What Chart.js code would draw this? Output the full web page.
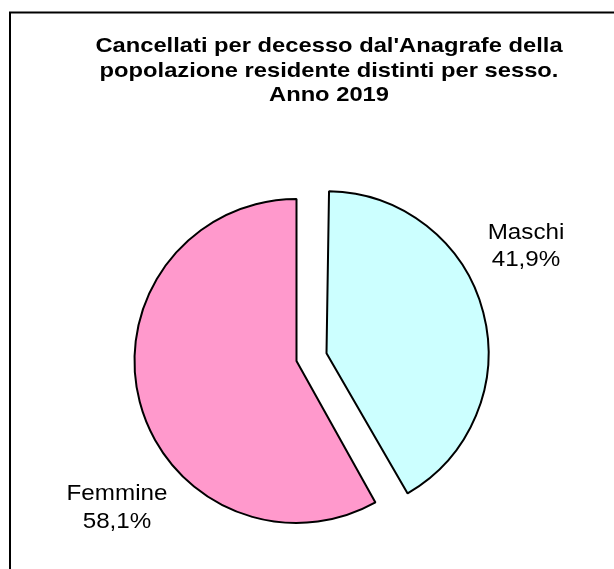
<!DOCTYPE html>
<html>
<head>
<meta charset="utf-8">
<script src="https://cdn.jsdelivr.net/npm/chart.js@4"></script>
<style>
  html, body { margin: 0; padding: 0; background: #fff; }
  #wrap { width: 614px; height: 569px; }
</style>
</head>
<body>
<div id="wrap"><canvas id="chart" width="614" height="569"></canvas></div>
<script>
let categories = ["Maschi", "Femmine"];
let percentuali = [41.9, 58.1];
let percentLabels = ["41,9%", "58,1%"];
let titleLines = [
    "Cancellati per decesso dal'Anagrafe della",
    "popolazione residente distinti per sesso.",
    "Anno 2019"
];

// Excel-style frame (only top and left edges visible in the crop)
const framePlugin = {
    id: 'frame',
    beforeDraw(chart) {
        const c = chart.ctx;
        c.save();
        c.strokeStyle = '#000';
        c.lineWidth = 2;
        c.strokeRect(10, 12.5, 800, 800);
        c.restore();
    }
};

// chart.js arc pushes out offset/4 and also grows the radius; undo the growth
const offsetFix = {
    id: 'offsetFix',
    afterDatasetUpdate(chart, args) {
        const meta = chart.getDatasetMeta(args.index);
        meta.data.forEach(el => {
            const off = (el.options.offset || 0) / 4;
            const fix = 1 - Math.sin(Math.min(Math.PI, el.circumference));
            el.outerRadius -= off * fix;
        });
    }
};

// wide GDI-like text: draw with a horizontal stretch
function stretchedText(c, text, x, y, sx) {
    c.save();
    c.translate(x, y);
    c.scale(sx, 1);
    c.fillText(text, 0, 0);
    c.restore();
}

const textPlugin = {
    id: 'texts',
    afterDraw(chart) {
        const c = chart.ctx;
        c.save();
        c.fillStyle = '#000';
        c.textAlign = 'center';
        c.textBaseline = 'alphabetic';
        c.font = 'bold 21px "Liberation Sans", Arial, sans-serif';
        let ys = [52, 77, 101];
        titleLines.forEach((t, i) => stretchedText(c, t, 329, ys[i], 1.13));

        c.font = '22px "Liberation Sans", Arial, sans-serif';
        let pos = [[526, 239, 266], [117, 500, 528]];
        categories.forEach((name, i) => {
            stretchedText(c, name, pos[i][0], pos[i][1], 1.1);
            stretchedText(c, percentLabels[i], pos[i][0], pos[i][2], 1.1);
        });
        c.restore();
    }
};

let ctx = document.getElementById('chart').getContext('2d');

let chart = new Chart(ctx, {
    type: 'pie',
    data: {
        labels: categories,
        datasets: [{
            data: percentuali,
            backgroundColor: ['#CCFFFF', '#FF99CC'],
            borderColor: '#000000',
            borderWidth: 2,
            offset: [124, 0]
        }]
    },
    options: {
        responsive: false,
        animation: false,
        radius: 162,
        layout: {
            padding: { left: 118, right: 139, top: 183, bottom: 30 }
        },
        plugins: {
            legend: { display: false },
            title: { display: false },
            tooltip: { enabled: false }
        }
    },
    plugins: [framePlugin, offsetFix, textPlugin]
});
</script>
</body>
</html>
